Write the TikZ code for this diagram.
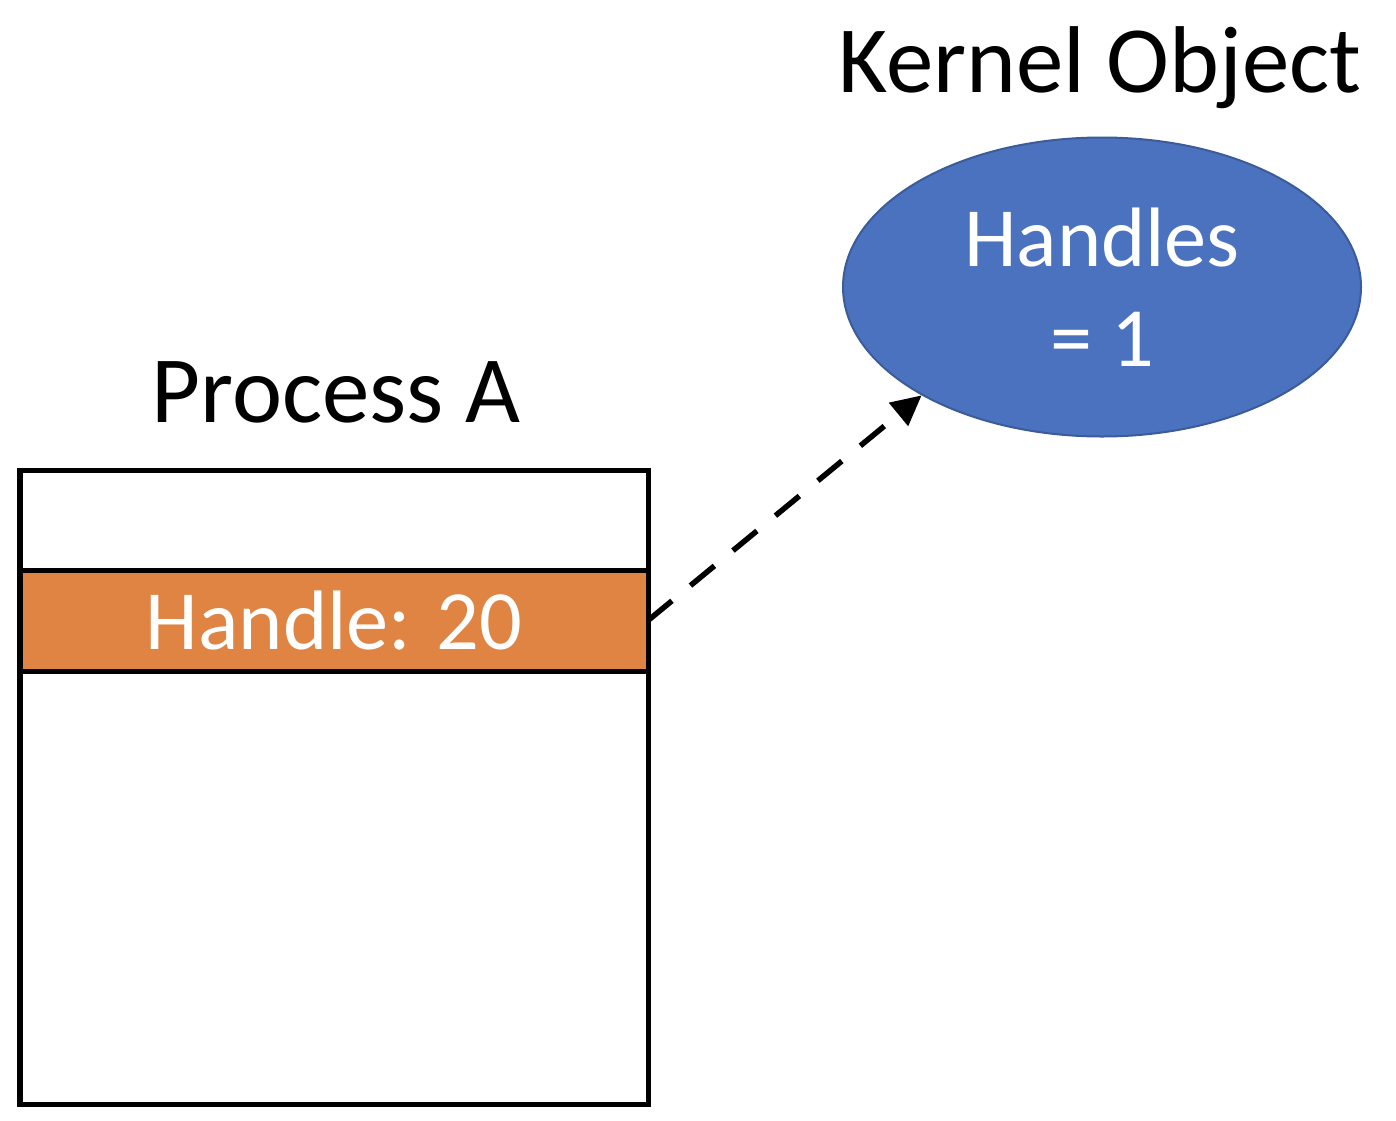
\documentclass[tikz,border=0pt]{standalone}
\usepackage{fontspec}
\setmainfont{Carlito}
\usetikzlibrary{positioning,shapes.geometric,arrows.meta}

\definecolor{handleorange}{HTML}{E08443}
\definecolor{objblue}{HTML}{4A72BE}
\definecolor{objedge}{HTML}{3B5B9A}

\tikzset{
  slotbox/.style = {draw, line width=0.1cm, minimum width=12.56cm, outer sep=0pt, inner sep=0pt},
  bigtext/.style = {font=\fontsize{54}{64}\selectfont},
  celltext/.style = {font=\fontsize{48}{57}\selectfont, text=white},
  refarrow/.style = {line width=0.11cm, dash pattern=on 0.62cm off 0.48cm, -{Triangle[length=0.6cm,width=0.58cm]}}
}

\begin{document}
\begin{tikzpicture}
			\useasboundingbox (0,0) rectangle (27.92,-22.4);
			% tabla del proceso
			\node[slotbox, minimum height=2cm] (slottop) at (6.68,-10.4) {};
			\node[slotbox, minimum height=2.02cm, fill=handleorange, celltext, below=0pt of slottop] (handle) {Handle: 20};
			\node[slotbox, minimum height=8.66cm, below=0pt of handle] (slotrest) {};
			\node[bigtext, anchor=base] (proclabel) at (6.72,-8.44) {Process A};
			% objeto del kernel
			\node[ellipse, fill=objblue, draw=objedge, line width=0.04cm, minimum width=10.36cm, minimum height=5.98cm, inner sep=0pt, celltext, align=center] (kobj) at (22.04,-5.74) {Handles\\= 1};
			\node[bigtext, anchor=base] (kobjlabel) at (22.0,-1.84) {Kernel Object};
			% flecha
			\draw[refarrow] (handle.east) -- (kobj.211);
\end{tikzpicture}
\end{document}
